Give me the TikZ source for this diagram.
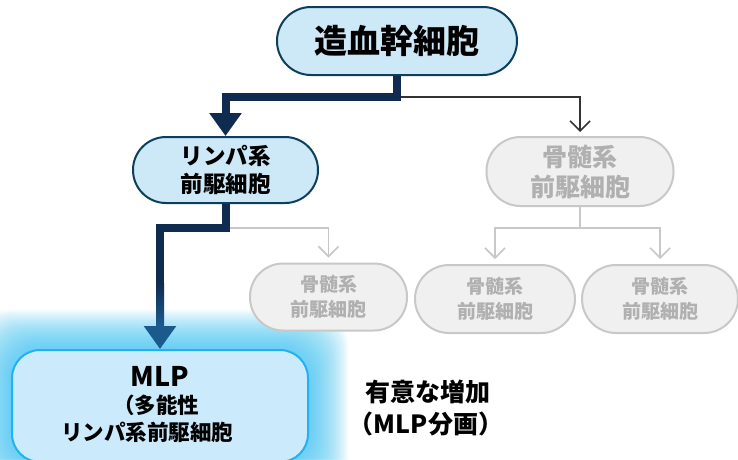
\documentclass[tikz,border=0pt]{standalone}
\usepackage{fontspec}
\setmainfont{Noto Sans CJK JP}
\usetikzlibrary{arrows.meta}
\definecolor{hscfill}{HTML}{CDE8F7}
\definecolor{hscline}{HTML}{0B3F5C}
\definecolor{navy}{HTML}{0F2B50}
\definecolor{arrowblue}{HTML}{1B5A8C}
\definecolor{darkline}{HTML}{333333}
\definecolor{grayline}{HTML}{C8C8C8}
\definecolor{grayfill}{HTML}{F0F0F0}
\definecolor{graytext}{HTML}{B0B0B0}
\definecolor{mlpfill}{HTML}{CBEAFB}
\definecolor{mlpline}{HTML}{22B2EE}
\definecolor{glowc}{HTML}{2EC0F5}
\tikzset{
  bluenode/.style={draw=hscline, fill=hscfill, line width=2pt, text=black, align=center, inner sep=0pt},
  graynode/.style={draw=grayline, fill=grayfill, line width=2pt, text=graytext, align=center, inner sep=0pt},
  mlpnode/.style={draw=mlpline, fill=mlpfill, line width=2pt, inner sep=0pt},
  thickarrow/.style={draw=navy, line width=8pt, -{Triangle[width=31pt,length=23pt]}},
  thinarrow/.style={draw=darkline, line width=1.6pt, shorten >=4pt, -{Straight Barb[width=20pt,length=10pt,line width=1.6pt]}},
  grayarrow/.style={draw=grayline, line width=1.6pt, shorten >=5pt, -{Straight Barb[width=20pt,length=10pt,line width=1.6pt]}},
  grayconn/.style={draw=grayline, line width=1.6pt},
  plaintext/.style={text=black, inner sep=0pt, align=center}
}
\begin{document}
\begin{tikzpicture}[x=1pt,y=-1pt]
\useasboundingbox (0,0) rectangle (738,459);
\clip (0,0) rectangle (738,459);
\fill[white] (0,0) rectangle (738,459);
% glow around MLP box
\foreach \e in {40,38,...,2} {
  \fill[glowc, opacity=0.055, rounded corners=36pt] (12-\e,350-\e) rectangle (308+\e,462+\e);
}
% nodes
\node[bluenode, minimum width=240pt, minimum height=68pt, rounded corners=34pt,
  font=\bfseries\fontsize{33}{36}\selectfont] (hsc) at (397,41) {造血幹細胞};
\node[bluenode, minimum width=185pt, minimum height=66pt, rounded corners=33pt,
  font=\bfseries\fontsize{22.5}{28}\selectfont] (lym) at (225.5,170) {リンパ系\\前駆細胞};
\node[graynode, minimum width=187pt, minimum height=69pt, rounded corners=34pt,
  font=\bfseries\fontsize{25}{30}\selectfont] (mye) at (580,171.5) {骨髄系\\前駆細胞};
\node[graynode, minimum width=157pt, minimum height=67pt, rounded corners=33pt,
  font=\bfseries\fontsize{19}{25}\selectfont] (sub1) at (328.5,297) {骨髄系\\前駆細胞};
\node[graynode, minimum width=160pt, minimum height=68pt, rounded corners=34pt,
  font=\bfseries\fontsize{19}{25}\selectfont] (sub2) at (495,299) {骨髄系\\前駆細胞};
\node[graynode, minimum width=156pt, minimum height=68pt, rounded corners=34pt,
  font=\bfseries\fontsize{19}{25}\selectfont] (sub3) at (660,299) {骨髄系\\前駆細胞};
\node[mlpnode, minimum width=296pt, minimum height=112pt, rounded corners=28pt] (mlp) at (160,406) {};
\node[plaintext, font=\bfseries\fontsize{21.5}{27}\selectfont] (mlpa) at (160,376) {\fontsize{27}{30}\selectfont MLP};
\node[plaintext, font=\bfseries\fontsize{21.5}{27}\selectfont] (mlpb) at (156,405) {（多能性};
\node[plaintext, font=\bfseries\fontsize{21.5}{27}\selectfont] (mlpc) at (147,432) {リンパ系前駆細胞};
\node[plaintext, font=\bfseries\fontsize{25}{28}\selectfont] (t1) at (428,392) {有意な増加};
\node[plaintext, font=\bfseries\fontsize{25}{28}\selectfont] (t2) at (426,424) {（MLP分画）};
% connectors
\path (hsc.south) ++(0,21) coordinate (j1);
\draw[thinarrow] (j1) -| (mye.north);
\draw[thickarrow] (hsc.south) -- (j1) -| (lym.north);
\path (lym.south) ++(0,24) coordinate (j2);
\draw[grayarrow] (j2) -| (sub1.north);
\path (mlp.north) ++(0,-26) coordinate (j4);
\draw[draw=navy, line width=8pt] (lym.south) -- (j2) -| (j4);
\shade[top color=navy, bottom color=arrowblue] ([xshift=-4pt,yshift=40pt]j4) rectangle ([xshift=4pt,yshift=-1pt]j4);
\draw[line width=8pt, arrowblue, -{Triangle[width=31pt,length=23pt]}] ([yshift=-0.5pt]j4) -- (mlp.north);
\path (mye.south) ++(0,21) coordinate (j3);
\draw[grayconn] (mye.south) -- (j3);
\draw[grayarrow] (j3) -| (sub2.north);
\draw[grayarrow] (j3) -| (sub3.north);
\end{tikzpicture}
\end{document}
